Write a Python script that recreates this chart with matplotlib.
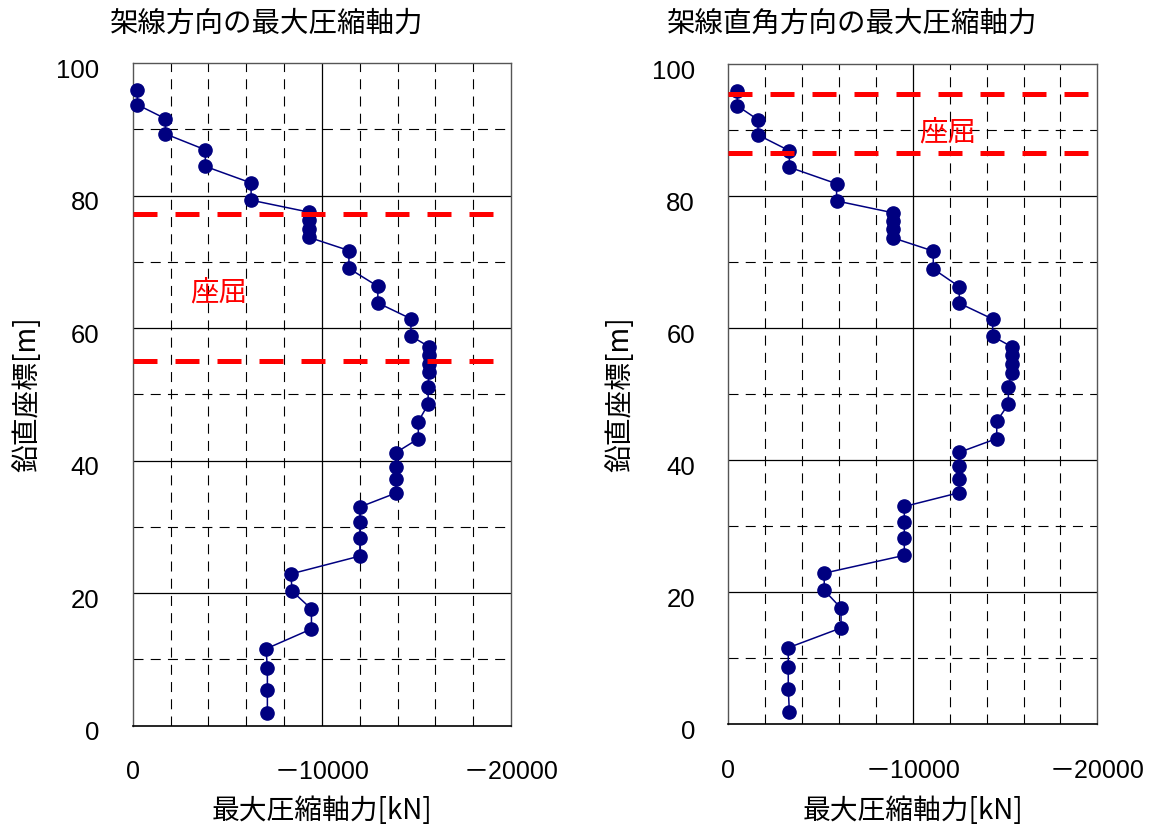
import matplotlib
matplotlib.use("Agg")
import matplotlib.pyplot as plt
from matplotlib.ticker import MultipleLocator, FixedLocator
from matplotlib.transforms import ScaledTranslation

plt.rcParams['font.family'] = ['Noto Sans CJK JP', 'DejaVu Sans']

heights = [95.9, 93.7, 91.6, 89.3, 86.9, 84.4, 81.9, 79.3, 77.5, 76.3, 75.0, 73.7,
           71.7, 69.0, 66.3, 63.8, 61.4, 58.8, 57.2, 55.9, 54.6, 53.3, 51.1, 48.5,
           45.9, 43.3, 41.2, 39.1, 37.2, 35.1, 33.0, 30.7, 28.3, 25.6, 22.9, 20.3,
           17.6, 14.6, 11.6, 8.7, 5.4, 1.9]

force_parallel = [-250, -250, -1730, -1730, -3840, -3840, -6260, -6260,
                  -9310, -9310, -9310, -9310, -11430, -11430, -12960, -12960,
                  -14710, -14710, -15660, -15660, -15660, -15660, -15620, -15620,
                  -15100, -15100, -13910, -13910, -13910, -13910,
                  -12010, -12010, -12010, -12010, -8360, -8430, -9450, -9450,
                  -7050, -7120, -7120, -7120]

force_perp = [-490, -490, -1610, -1610, -3310, -3310, -5870, -5870,
              -8930, -8930, -8930, -8930, -11110, -11110, -12520, -12520,
              -14330, -14330, -15360, -15360, -15360, -15360, -15180, -15180,
              -14550, -14550, -12520, -12520, -12520, -12520,
              -9540, -9540, -9540, -9540, -5200, -5200, -6110, -6110,
              -3250, -3250, -3250, -3310]

buckle_parallel = [77.2, 55.0]
buckle_perp = [95.5, 86.6]

titles = ['架線方向の最大圧縮軸力', '架線直角方向の最大圧縮軸力']
xlabel = '最大圧縮軸力[kN]'
ylabel = '鉛直座標[m]'
buckle_text = '座屈'
buckle_text_pos = [(-4570, 65.4), (-11870, 89.6)]

xticks = [0, -10000, -20000]
xticklabels = ['0', '\uff0d10000', '\uff0d20000']
yticks = [0, 20, 40, 60, 80, 100]
yticklabels = ['0', '20', '40', '60', '80', '100']

W, H = 1150, 830
fig = plt.figure(figsize=(W / 100, H / 100), dpi=100)

axes_px = [(132.7, 63.0, 511.0, 725.7), (728.3, 64.3, 1097.3, 724.3)]
title_x = [266.5, 852]
ylabel_x = [27, 620]

datasets = [force_parallel, force_perp]
buckles = [buckle_parallel, buckle_perp]
tickfont = ['Liberation Sans', 'Noto Sans CJK JP']

for i in range(2):
    l, t, r, b = axes_px[i]
    ax = fig.add_axes([l / W, 1 - b / H, (r - l) / W, (b - t) / H])
    ax.set_xlim(0, -20000)
    ax.set_ylim(0, 100)
    ax.xaxis.set_major_locator(FixedLocator(xticks))
    ax.set_xticklabels(xticklabels, family=tickfont, fontsize=18)
    ax.xaxis.set_minor_locator(MultipleLocator(2000))
    ax.yaxis.set_major_locator(FixedLocator(yticks))
    ax.set_yticklabels(yticklabels, family=tickfont, fontsize=18.5)
    ax.yaxis.set_minor_locator(MultipleLocator(10))
    ax.grid(True, which='minor', color='black', linestyle=(0, (9, 6.5)), linewidth=0.8, zorder=0)
    ax.grid(False, which='major')
    for v in [-10000]:
        ax.axvline(v, color='black', linewidth=0.9, zorder=0.5)
    for v in [20, 40, 60, 80]:
        ax.axhline(v, color='black', linewidth=0.9, zorder=0.5)
    ax.tick_params(which='both', length=0)
    ax.tick_params(axis='x', pad=25)
    ax.tick_params(axis='y', pad=24)
    off = ScaledTranslation(0, -5 / 100, fig.dpi_scale_trans)
    for lab in ax.get_yticklabels():
        lab.set_transform(lab.get_transform() + off)
    for s in ['top', 'right', 'left']:
        ax.spines[s].set_color('#555555')
        ax.spines[s].set_linewidth(1.0)
    ax.spines['bottom'].set_color('black')
    ax.spines['bottom'].set_linewidth(1.2)

    ax.plot(datasets[i], heights, color='#000080', linewidth=1.1, marker='o',
            markersize=9.5, markerfacecolor='#000080', markeredgecolor='#000080',
            zorder=3, clip_on=False)
    for yb in buckles[i]:
        ax.plot([0, -20000], [yb, yb], color='#ff0000', linewidth=3.6,
                dashes=(4.8, 3.6), zorder=4)
    ax.text(buckle_text_pos[i][0], buckle_text_pos[i][1], buckle_text, color='#ff0000',
            fontsize=20.5, ha='center', va='center', zorder=5)

    ax.set_xlabel(xlabel, fontsize=20)
    ax.xaxis.set_label_coords(0.5, -(811 - b) / (b - t))
    ax.xaxis.label.set_va('center')
    ax.set_ylabel(ylabel, fontsize=20)
    ax.yaxis.set_label_coords((ylabel_x[i] - l) / (r - l), 0.5)
    ax.yaxis.label.set_va('center')

    fig.text(title_x[i] / W, 1 - 23.5 / H, titles[i], fontsize=20.5, ha='center', va='center')

fig.savefig('out.png', dpi=100)
